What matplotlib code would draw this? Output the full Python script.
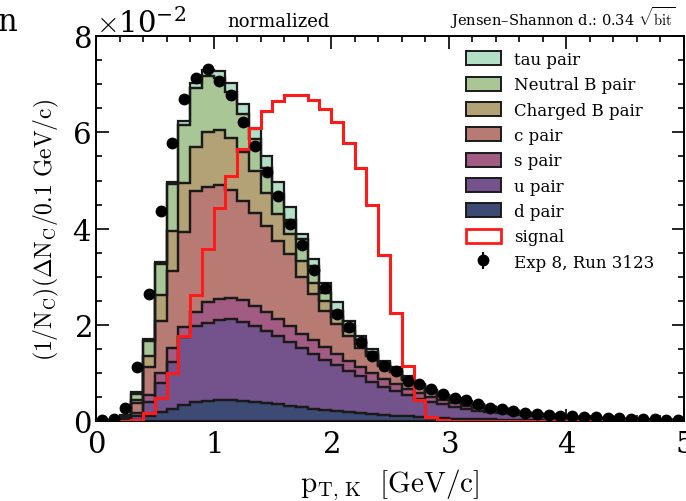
import numpy as np
import matplotlib
matplotlib.use("Agg")
import matplotlib.pyplot as plt
from matplotlib.patches import Patch
from matplotlib.ticker import MultipleLocator, ScalarFormatter

plt.rcParams['font.family'] = ['DejaVu Serif']
plt.rcParams['mathtext.fontset'] = 'cm'
plt.rcParams['axes.formatter.use_mathtext'] = True

# bin edges in GeV/c
edges = np.round(np.arange(0, 5.0001, 0.1), 2)
scale = 1e-2

# cumulative stack tops (units of 1e-2), bottom to top
d_top = [0, 0.002, 0.01, 0.03, 0.10, 0.19, 0.26, 0.33, 0.39, 0.42,
         0.43, 0.43, 0.42, 0.40, 0.37, 0.35, 0.32, 0.29, 0.26, 0.24,
         0.21, 0.19, 0.17, 0.15, 0.13, 0.11, 0.10, 0.08, 0.07, 0.06,
         0.05, 0.045, 0.04, 0.035, 0.03, 0.025, 0.02, 0.017, 0.014, 0.012,
         0.010, 0.008, 0.007, 0.006, 0.005, 0.004, 0.003, 0.003, 0.002, 0.002]
u_top = [0, 0.005, 0.03, 0.10, 0.40, 0.80, 1.22, 1.74, 1.98, 2.05,
         2.11, 2.12, 2.07, 1.98, 1.88, 1.77, 1.65, 1.52, 1.40, 1.28,
         1.16, 1.04, 0.93, 0.82, 0.72, 0.63, 0.55, 0.47, 0.40, 0.35,
         0.30, 0.26, 0.22, 0.19, 0.16, 0.14, 0.12, 0.10, 0.085, 0.07,
         0.06, 0.05, 0.045, 0.038, 0.032, 0.026, 0.022, 0.019, 0.016, 0.013]
s_top = [0, 0.007, 0.04, 0.17, 0.55, 1.01, 1.53, 1.95, 2.26, 2.47,
         2.54, 2.55, 2.51, 2.40, 2.26, 2.12, 1.98, 1.82, 1.68, 1.54,
         1.40, 1.26, 1.13, 1.00, 0.88, 0.77, 0.67, 0.58, 0.50, 0.43,
         0.37, 0.32, 0.27, 0.23, 0.20, 0.17, 0.14, 0.12, 0.10, 0.085,
         0.07, 0.06, 0.052, 0.045, 0.037, 0.030, 0.026, 0.022, 0.018, 0.015]
c_top = [0, 0.012, 0.08, 0.38, 1.12, 2.09, 3.13, 3.94, 4.78, 4.87,
         4.90, 4.80, 4.58, 4.33, 4.06, 3.75, 3.48, 3.00, 2.65, 2.29,
         2.02, 1.77, 1.53, 1.36, 1.14, 1.02, 0.86, 0.73, 0.61, 0.52,
         0.45, 0.39, 0.33, 0.28, 0.245, 0.21, 0.17, 0.145, 0.125, 0.105,
         0.086, 0.076, 0.066, 0.057, 0.047, 0.038, 0.033, 0.028, 0.023, 0.019]
chB_top = [0, 0.015, 0.10, 0.45, 1.36, 2.62, 3.95, 4.95, 5.69, 6.00,
           6.05, 5.88, 5.60, 5.20, 4.75, 4.30, 3.88, 3.33, 2.88, 2.50,
           2.16, 1.88, 1.60, 1.40, 1.16, 1.04, 0.88, 0.74, 0.62, 0.53,
           0.46, 0.40, 0.34, 0.29, 0.25, 0.215, 0.175, 0.148, 0.127, 0.107,
           0.088, 0.078, 0.068, 0.058, 0.048, 0.039, 0.034, 0.029, 0.024, 0.0195]
nB_top = [0, 0.018, 0.11, 0.56, 1.67, 3.26, 4.92, 6.15, 6.92, 7.17,
          7.14, 6.83, 6.38, 5.86, 5.27, 4.72, 4.18, 3.78, 3.23, 2.67,
          2.29, 1.98, 1.68, 1.44, 1.20, 1.08, 0.90, 0.76, 0.63, 0.54,
          0.47, 0.405, 0.345, 0.295, 0.255, 0.218, 0.178, 0.149, 0.129, 0.109,
          0.089, 0.079, 0.069, 0.059, 0.049, 0.0395, 0.0345, 0.0295, 0.0245, 0.0198]
tau_top = [0, 0.02, 0.12, 0.60, 1.70, 3.31, 4.97, 6.24, 7.03, 7.30,
           7.28, 7.02, 6.59, 6.07, 5.52, 4.97, 4.44, 3.89, 3.37, 2.88,
           2.47, 2.09, 1.77, 1.50, 1.26, 1.12, 0.93, 0.77, 0.64, 0.55,
           0.48, 0.41, 0.35, 0.30, 0.26, 0.22, 0.18, 0.15, 0.13, 0.11,
           0.09, 0.08, 0.07, 0.06, 0.05, 0.04, 0.035, 0.03, 0.025, 0.02]

signal = [0, 0, 0, 0.02, 0.18, 0.49, 1.01, 1.77, 2.63, 3.58,
          4.42, 5.10, 5.66, 6.10, 6.44, 6.66, 6.78, 6.78, 6.68, 6.49,
          6.21, 5.79, 5.27, 4.49, 3.45, 2.25, 1.15, 0.43, 0.08, 0.02,
          0.01, 0, 0, 0, 0, 0, 0, 0, 0, 0,
          0, 0, 0, 0, 0, 0, 0, 0, 0, 0]

data = [0.02, 0.04, 0.28, 1.13, 2.65, 4.37, 5.79, 6.69, 7.13, 7.32,
        7.06, 6.78, 6.21, 5.71, 5.17, 4.67, 4.10, 3.66, 3.15, 2.77,
        2.22, 1.95, 1.64, 1.36, 1.14, 1.05, 0.83, 0.78, 0.67, 0.56,
        0.48, 0.44, 0.35, 0.28, 0.25, 0.21, 0.18, 0.15, 0.12, 0.11,
        0.10, 0.09, 0.08, 0.07, 0.06, 0.05, 0.04, 0.04, 0.03, 0.03]
data_err = [0.01, 0.01, 0.03, 0.05, 0.07, 0.09, 0.10, 0.11, 0.11, 0.11,
            0.11, 0.11, 0.10, 0.10, 0.09, 0.09, 0.08, 0.08, 0.07, 0.07,
            0.06, 0.06, 0.05, 0.05, 0.04, 0.04, 0.04, 0.04, 0.03, 0.03,
            0.03, 0.03, 0.02, 0.02, 0.02, 0.02, 0.02, 0.02, 0.02, 0.01,
            0.01, 0.01, 0.01, 0.01, 0.01, 0.01, 0.01, 0.01, 0.01, 0.01]

labels = ["d pair", "u pair", "s pair", "c pair", "Charged B pair", "Neutral B pair", "tau pair"]
colors = ["#3c4a74", "#74528c", "#a25b82", "#b87b74", "#b3a276", "#a9c796", "#b3dfc6"]
tops = [d_top, u_top, s_top, c_top, chB_top, nB_top, tau_top]

fig = plt.figure(figsize=(6.86, 5.02), dpi=100)
ax = fig.add_axes([0.140, 0.159, 0.857, 0.767])

prev = np.zeros(len(edges) - 1)
for top, col in zip(tops, colors):
    t = np.array(top) * scale
    ax.stairs(t, edges, baseline=prev, fill=True, color=col, zorder=2)
    ax.stairs(t, edges, baseline=prev, fill=False, color="#1a1a1a", lw=1.6, zorder=3)
    prev = t

ax.stairs(np.array(signal) * scale, edges, color="#ff1a1a", lw=2.2, zorder=4)

centers = 0.5 * (edges[:-1] + edges[1:])
eb = ax.errorbar(centers, np.array(data) * scale, yerr=np.array(data_err) * scale,
                 fmt='o', color='black', ms=7.5, elinewidth=1.5, capsize=0, zorder=5)

ax.set_xlim(0, 5)
ax.set_ylim(0, 0.08)
ax.xaxis.set_major_locator(MultipleLocator(1))
ax.xaxis.set_minor_locator(MultipleLocator(0.2))
ax.yaxis.set_major_locator(MultipleLocator(0.02))
ax.yaxis.set_minor_locator(MultipleLocator(0.005))
fmt = ScalarFormatter(useMathText=True)
fmt.set_powerlimits((-1, 1))
ax.yaxis.set_major_formatter(fmt)
ax.tick_params(which='both', direction='in', top=True, right=True, labelsize=21, width=1.2)
ax.tick_params(which='major', length=9)
ax.tick_params(which='minor', length=4.5)
ax.tick_params(axis='x', pad=6)
ax.yaxis.get_offset_text().set_fontsize(21)
for s in ax.spines.values():
    s.set_linewidth(1.4)

ax.set_xlabel(r"$\mathrm{p}_{\mathrm{T,\,K}}\ \ [\mathrm{GeV/c}]$", fontsize=21, labelpad=6)
ax.set_ylabel(r"$(1/\mathrm{N}_{\mathrm{C}})(\Delta\mathrm{N}_{\mathrm{C}}/0.1\ \mathrm{GeV/c})$", fontsize=17, labelpad=8)

ax.text(0.31, 1.015, "normalized", transform=ax.transAxes, ha='center', va='bottom', fontsize=13)
ax.text(0.985, 1.015, r"Jensen–Shannon d.: 0.34 $\sqrt{\mathrm{bit}}$", transform=ax.transAxes,
        ha='right', va='bottom', fontsize=10.5)
fig.text(-0.003, 0.955, "n", ha='left', va='center', fontsize=22)

handles = [Patch(facecolor=c, edgecolor='#1a1a1a', lw=1.4) for c in colors[::-1]]
handles.append(Patch(facecolor='white', edgecolor='#ff1a1a', lw=2))
handles.append(eb)
leg_labels = labels[::-1] + ["signal", "Exp 8, Run 3123"]
ax.legend(handles, leg_labels, loc='upper right', frameon=False, fontsize=12,
          handlelength=2.1, handleheight=0.9, labelspacing=0.5, borderaxespad=0.5,
          bbox_to_anchor=(0.975, 1.0))

fig.savefig("out.png", dpi=100)
